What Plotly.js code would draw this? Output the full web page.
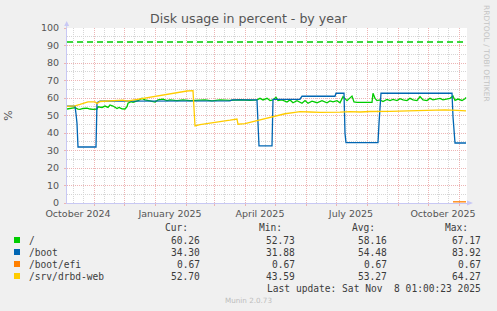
<!DOCTYPE html>
<html><head><meta charset="utf-8">
<script src="https://cdn.plot.ly/plotly-3.0.1.min.js"></script>
<style>html,body{margin:0;padding:0;background:#F0F0F0;overflow:hidden}</style>
</head><body><div id="chart" style="width:497px;height:311px"></div>
<script>
// ---------- data ----------
const rootDates = ['2024-10-05','2024-10-08','2024-10-10','2024-10-13','2024-10-16','2024-10-18','2024-10-21','2024-10-25','2024-10-28','2024-10-31',
 '2024-11-04','2024-11-05','2024-11-09','2024-11-12','2024-11-15','2024-11-17','2024-11-20','2024-11-22','2024-11-24','2024-11-26','2024-11-29',
 '2024-12-02','2024-12-04','2024-12-05','2024-12-08','2024-12-10','2024-12-15','2024-12-19','2024-12-22','2024-12-27',
 '2025-01-01','2025-01-04','2025-01-09','2025-01-13','2025-01-16','2025-01-23','2025-01-29',
 '2025-02-05','2025-02-12','2025-02-20','2025-02-27','2025-03-07','2025-03-17','2025-03-27',
 '2025-04-06','2025-04-13','2025-04-16','2025-04-19','2025-04-23','2025-04-26','2025-04-29',
 '2025-05-02','2025-05-04','2025-05-08','2025-05-13','2025-05-16','2025-05-19','2025-05-23','2025-05-28','2025-05-31',
 '2025-06-03','2025-06-07','2025-06-12','2025-06-17','2025-06-22','2025-06-25','2025-06-28',
 '2025-07-02','2025-07-05','2025-07-08','2025-07-12','2025-07-15','2025-07-17','2025-07-19','2025-07-22',
 '2025-08-06','2025-08-07','2025-08-09','2025-08-11','2025-08-14','2025-08-17','2025-08-21','2025-08-24','2025-08-27','2025-08-31',
 '2025-09-03','2025-09-06','2025-09-10','2025-09-13','2025-09-16','2025-09-20','2025-09-23','2025-09-26','2025-09-30',
 '2025-10-03','2025-10-06','2025-10-10','2025-10-13','2025-10-16','2025-10-20','2025-10-23','2025-10-26','2025-10-28','2025-10-31',
 '2025-11-04','2025-11-07','2025-11-08'];
const rootVals = [53.7,53.9,54.3,54.5,53.6,53.5,54.0,54.2,53.7,53.5,
 53.7,55.0,54.6,55.4,54.6,56.0,55.4,54.6,54.0,54.6,53.8,
 53.7,55.0,57.0,57.9,57.6,58.5,59.8,58.9,58.3,
 57.7,58.9,59.3,58.5,58.9,58.5,58.9,
 58.5,58.5,58.9,58.4,58.9,58.6,59.0,
 58.7,58.9,59.8,58.9,59.8,58.5,58.9,
 60.4,58.5,58.9,57.7,58.9,57.3,58.5,57.0,58.5,
 57.0,58.2,57.3,58.5,57.3,58.3,57.8,
 58.5,57.3,60.8,58.5,59.8,61.1,57.8,57.5,
 57.5,62.7,59.8,58.5,58.9,58.0,59.2,58.5,59.2,58.5,
 59.6,58.9,58.5,59.8,58.9,58.5,60.8,58.9,58.5,
 59.8,58.9,59.2,59.8,58.9,59.2,59.8,61.1,58.6,59.4,
 58.6,59.6,60.26];

const bootDates = ['2024-10-05','2024-10-13','2024-10-14','2024-10-15','2024-10-16','2024-11-03','2024-11-04','2024-11-07',
 '2025-03-17','2025-03-19','2025-04-13','2025-04-14','2025-04-15','2025-04-28','2025-04-29','2025-05-26','2025-05-28',
 '2025-06-30','2025-07-01','2025-07-09','2025-07-10','2025-07-11','2025-08-12','2025-08-13','2025-08-15',
 '2025-10-25','2025-10-26','2025-10-28','2025-11-08'];
const bootVals = [55.4,55.4,51.0,45.5,32.0,32.0,57.3,58.2,
 58.4,58.9,58.9,45.5,32.6,32.6,59.2,59.3,61.0,
 61.0,62.7,62.7,39.8,34.5,34.5,45.5,62.7,
 62.7,49.3,34.3,34.3];

const efiDates = ['2025-10-26','2025-11-08'];
const efiVals = [0.67,0.67];

const srvDates = ['2024-10-05','2024-10-13','2024-10-18','2024-10-23','2024-10-26','2024-11-02','2024-11-04','2024-11-07',
 '2024-11-24','2024-11-30','2024-12-04','2024-12-07','2024-12-14','2024-12-27','2025-01-06','2025-01-16','2025-01-26',
 '2025-02-02','2025-02-08','2025-02-10','2025-02-15','2025-02-25','2025-03-07','2025-03-17','2025-03-24','2025-03-25',
 '2025-04-01','2025-04-11','2025-04-21','2025-05-01','2025-05-11','2025-05-21','2025-05-26','2025-06-05','2025-06-15',
 '2025-07-05','2025-07-15','2025-07-25','2025-08-04','2025-08-24','2025-09-08','2025-09-18','2025-10-03','2025-10-18',
 '2025-10-30','2025-11-08'];
const srvVals = [55.2,55.5,56.3,57.5,57.8,57.8,56.8,58.0,
 58.3,58.8,58.2,58.5,59.2,60.5,61.5,62.5,63.3,
 64.0,64.2,44.0,44.8,45.8,46.5,47.3,48.0,45.0,
 45.3,46.8,48.3,49.8,51.0,51.8,52.2,52.0,51.8,
 51.9,52.2,52.0,52.3,52.4,52.6,53.0,53.1,53.2,
 52.9,52.7];

const warningLevel = 92;

const seriesNames = ['/','/boot','/boot/efi','/srv/drbd-web'];
const seriesColors = ['#00CC00','#0066B3','#FF8000','#FFCC00'];
const curVals = [60.26,34.30,0.67,52.70];
const minVals = [52.73,31.88,0.67,43.59];
const avgVals = [58.16,54.48,0.67,53.27];
const maxVals = [67.17,83.92,0.67,64.27];

const xStart = '2024-10-05', xEnd = '2025-11-09';
const monthStarts = ['2024-11-01','2024-12-01','2025-01-01','2025-02-01','2025-03-01','2025-04-01','2025-05-01','2025-06-01','2025-07-01','2025-08-01','2025-09-01','2025-10-01','2025-11-01'];
const minorGrid = [];
['2024-10','2024-11','2024-12','2025-01','2025-02','2025-03','2025-04','2025-05','2025-06','2025-07','2025-08','2025-09','2025-10'].forEach(m=>{minorGrid.push(m+'-11');minorGrid.push(m+'-21');});
const labelVals = ['2024-10-16','2025-01-16','2025-04-16','2025-07-16','2025-10-16'];
const labelText = ['October 2024','January 2025','April 2025','July 2025','October 2025'];
const yTicks = [0,10,20,30,40,50,60,70,80,90,100];

// ---------- layout helpers ----------
const L=67, T=28, W=400, H=175;
const ax = p => (p-L)/W;
const ay = p => (T+H-p)/H;

const lw = 1.3;
const traces = [
  {x: rootDates, y: rootVals, name: seriesNames[0], line:{color:seriesColors[0], width:lw}},
  {x: bootDates, y: bootVals, name: seriesNames[1], line:{color:seriesColors[1], width:lw}},
  {x: efiDates, y: efiVals, name: seriesNames[2], line:{color:seriesColors[2], width:lw}},
  {x: srvDates, y: srvVals, name: seriesNames[3], line:{color:seriesColors[3], width:lw}},
  {x: [xStart, xEnd], y: [warningLevel, warningLevel], xaxis:'x2', name:'warning', line:{color:'#00CC00', width:1.4, dash:'6px,4px'}}
].map(t => Object.assign({type:'scatter', mode:'lines', hoverinfo:'skip', showlegend:false}, t));

const mono = 'DejaVu Sans Mono, monospace';
const legFont = {family: mono, size: 9.6, color:'#3c3c3c'};
const annotations = [];
const shapes = [];
const hdrY = 227.5;
[['Cur:',190],['Min:',284],['Avg:',376.7],['Max:',470]].forEach(h=>{
  annotations.push({xref:'paper',yref:'paper',x:ax(h[1]),y:ay(hdrY),text:h[0],showarrow:false,xanchor:'right',yanchor:'middle',font:legFont});
});
const rowY = [240,252,264,276];
const fmt = v => v.toFixed(2);
seriesNames.forEach((n,i)=>{
  const y = rowY[i];
  shapes.push({type:'rect',xref:'paper',yref:'paper',x0:ax(14),x1:ax(20),y0:ay(y+3),y1:ay(y-3),fillcolor:seriesColors[i],line:{width:0}});
  annotations.push({xref:'paper',yref:'paper',x:ax(26.5),y:ay(y),text:n,showarrow:false,xanchor:'left',yanchor:'middle',font:legFont});
  [[curVals,202],[minVals,296.7],[avgVals,389],[maxVals,482.5]].forEach(c=>{
    annotations.push({xref:'paper',yref:'paper',x:ax(c[1]),y:ay(y),text:fmt(c[0][i]),showarrow:false,xanchor:'right',yanchor:'middle',font:legFont});
  });
});
annotations.push({xref:'paper',yref:'paper',x:ax(482.5),y:ay(288),text:'Last update: Sat Nov\u00A0\u00A08 01:00:23 2025',showarrow:false,xanchor:'right',yanchor:'middle',font:legFont});
annotations.push({xref:'paper',yref:'paper',x:ax(248),y:ay(300),text:'Munin 2.0.73',showarrow:false,xanchor:'center',yanchor:'middle',font:{family:'DejaVu Sans',size:7.2,color:'#BDBDBD'}});
annotations.push({xref:'paper',yref:'paper',x:ax(487),y:ay(53),text:'RRDTOOL / TOBI OETIKER',textangle:90,showarrow:false,xanchor:'center',yanchor:'middle',font:{family:'DejaVu Sans',size:7.5,color:'#C4C4C4'}});

// axis arrows
const axisCol = '#C8C8F4';
shapes.push({type:'path',xref:'paper',yref:'paper',path:`M ${ax(64.2)} ${ay(26)} L ${ax(66.7)} ${ay(21)} L ${ax(69.2)} ${ay(26)} Z`,fillcolor:axisCol,line:{width:0}});
shapes.push({type:'path',xref:'paper',yref:'paper',path:`M ${ax(467)} ${ay(200.5)} L ${ax(473)} ${ay(203)} L ${ax(467)} ${ay(205.5)} Z`,fillcolor:axisCol,line:{width:0}});
shapes.push({type:'line',xref:'paper',yref:'paper',x0:ax(66.7),x1:ax(66.7),y0:ay(28),y1:ay(24),line:{color:axisCol,width:1}});

const redGrid = '#EDB4B4', greyGrid = '#D6D6D6';
const tickFont = {family:'DejaVu Sans', size:9.5, color:'#555555'};
const layout = {
  width:497, height:311,
  paper_bgcolor:'#F0F0F0', plot_bgcolor:'#FFFFFF',
  margin:{l:L, r:497-L-W, t:T, b:311-T-H, pad:0},
  title:{text:'Disk usage in percent - by year', font:{family:'DejaVu Sans', size:12.6, color:'#555555'}, x:0.5, xanchor:'center', y:1-19/311, yanchor:'middle'},
  xaxis:{type:'date', range:[xStart,xEnd], tickmode:'array', tickvals:monthStarts, showticklabels:false,
    ticks:'outside', ticklen:2, tickcolor:redGrid, showgrid:true, gridcolor:redGrid, griddash:'1px,1px', gridwidth:1,
    minor:{tickmode:'array', tickvals:minorGrid, showgrid:true, gridcolor:greyGrid, griddash:'1px,1px', ticks:''},
    showline:true, linecolor:axisCol, linewidth:1, zeroline:false, fixedrange:true},
  xaxis2:{type:'date', overlaying:'x', anchor:'y', side:'bottom', range:[xStart,xEnd], tickmode:'array', tickvals:labelVals, ticktext:labelText,
    showgrid:false, ticks:'', tickfont:tickFont, showline:false, zeroline:false, fixedrange:true, ticklabelstandoff:3},
  yaxis:{range:[0,100], tickmode:'array', tickvals:yTicks, ticks:'outside', ticklen:2, tickcolor:redGrid, tickfont:tickFont,
    showgrid:true, gridcolor:redGrid, griddash:'1px,1px', minor:{dtick:5, showgrid:true, gridcolor:greyGrid, griddash:'1px,1px', ticks:''},
    showline:true, linecolor:axisCol, zeroline:false, fixedrange:true, ticklabelstandoff:3,
    title:{text:'%', font:{family:'DejaVu Sans', size:11, color:'#555555'}, standoff:26}},
  showlegend:false,
  annotations: annotations,
  shapes: shapes
};
Plotly.newPlot('chart', traces, layout, {staticPlot:true, displayModeBar:false});
</script></body></html>
